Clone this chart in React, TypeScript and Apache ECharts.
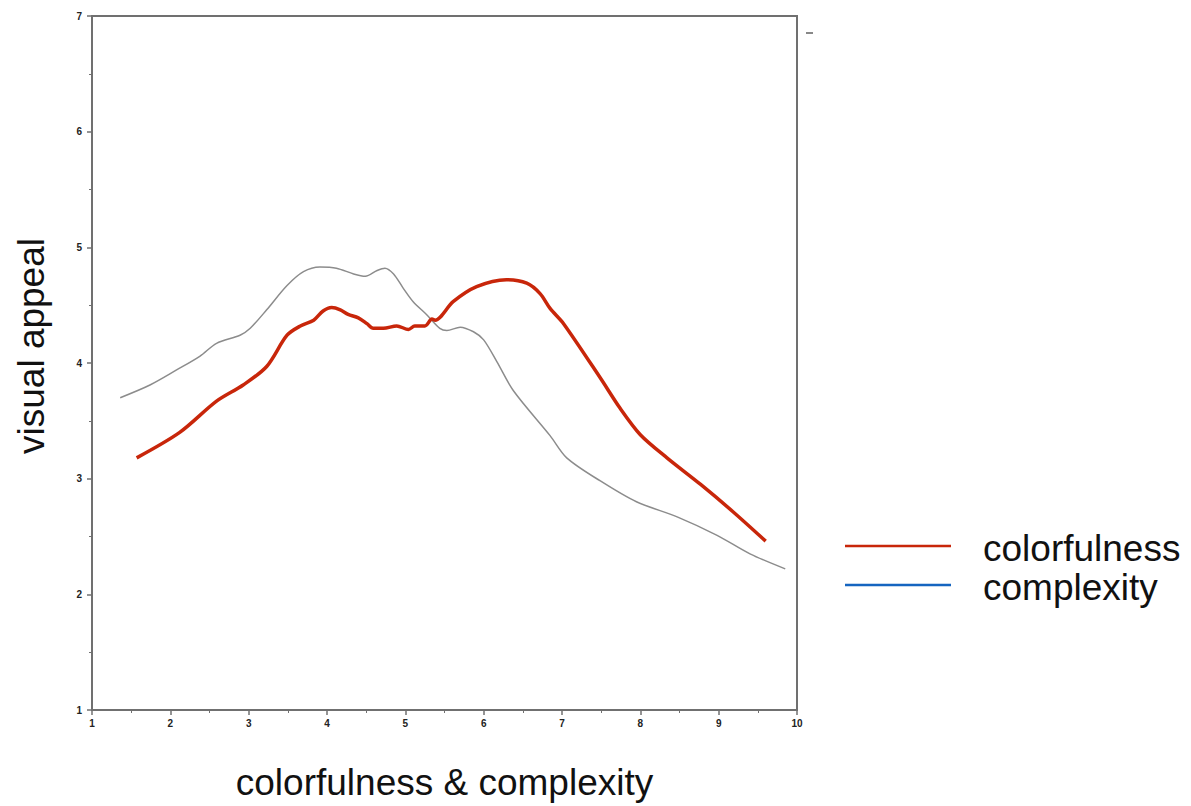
import React, { useEffect, useRef } from "react";
import * as echarts from "echarts";

const colorfulnessX = [1.57, 2.12, 2.59, 2.93, 3.23, 3.49, 3.66, 3.83, 3.95, 4.06, 4.17, 4.27, 4.4, 4.51, 4.59, 4.72, 4.89, 5.04, 5.12, 5.25, 5.34, 5.38, 5.61, 5.91, 6.29, 6.55, 6.72, 6.85, 7.02, 7.49, 7.74, 8.0, 8.34, 8.77, 9.19, 9.6];
const colorfulnessY = [3.18, 3.4, 3.67, 3.81, 3.97, 4.24, 4.32, 4.37, 4.45, 4.48, 4.46, 4.42, 4.39, 4.34, 4.3, 4.3, 4.32, 4.29, 4.32, 4.32, 4.38, 4.37, 4.53, 4.66, 4.72, 4.69, 4.6, 4.47, 4.34, 3.87, 3.61, 3.38, 3.18, 2.95, 2.71, 2.46];
const complexityX = [1.36, 1.74, 2.08, 2.38, 2.59, 2.89, 3.02, 3.23, 3.49, 3.7, 3.91, 4.12, 4.34, 4.49, 4.64, 4.74, 4.85, 4.97, 5.1, 5.27, 5.44, 5.53, 5.7, 5.87, 6.0, 6.17, 6.38, 6.85, 7.06, 7.49, 7.95, 8.47, 8.98, 9.4, 9.85];
const complexityY = [3.7, 3.81, 3.94, 4.06, 4.17, 4.24, 4.3, 4.46, 4.67, 4.79, 4.83, 4.82, 4.77, 4.75, 4.8, 4.82, 4.77, 4.65, 4.53, 4.42, 4.3, 4.28, 4.31, 4.27, 4.2, 4.01, 3.76, 3.37, 3.18, 2.98, 2.8, 2.67, 2.51, 2.35, 2.22];
const xTicks = [1, 2, 3, 4, 5, 6, 7, 8, 9, 10];
const yTicks = [1, 2, 3, 4, 5, 6, 7];
const seriesNames = ["colorfulness", "complexity"];
const legendColors = ["#c8260a", "#1565c0"];
const xTitle = "colorfulness & complexity";
const yTitle = "visual appeal";

export default function App() {
  const ref = useRef<HTMLDivElement>(null);
  useEffect(() => {
    if (!ref.current) return;
    const chart = echarts.init(ref.current, null, { renderer: "svg" });
    const font = "Liberation Sans, Arial, sans-serif";
    const axisCommon = {
      axisLine: { show: true, lineStyle: { color: "#707070", width: 2 } },
      axisTick: { show: true, inside: false, length: 5, lineStyle: { color: "#707070", width: 1.5 } },
      minorTick: { show: true, splitNumber: 2, length: 3, lineStyle: { color: "#707070", width: 1 } },
      splitLine: { show: false },
      axisLabel: { color: "#222", fontSize: 10, fontFamily: font, fontWeight: "bold" as const },
      nameTextStyle: { color: "#111", fontSize: 37, fontFamily: font },
    };
    chart.setOption({
      animation: false,
      backgroundColor: "#ffffff",
      grid: {
        left: 92,
        right: 394,
        top: 16,
        bottom: 92,
        show: true,
        borderColor: "#707070",
        borderWidth: 2,
        backgroundColor: "#ffffff",
      },
      xAxis: {
        type: "value",
        min: xTicks[0],
        max: xTicks[xTicks.length - 1],
        interval: 1,
        name: xTitle,
        nameLocation: "middle",
        nameGap: 54,
        ...axisCommon,
        axisLabel: { ...axisCommon.axisLabel, margin: 8 },
      },
      yAxis: {
        type: "value",
        min: yTicks[0],
        max: yTicks[yTicks.length - 1],
        interval: 1,
        ...axisCommon,
        axisLabel: { ...axisCommon.axisLabel, margin: 10 },
      },
      series: [
        {
          name: seriesNames[1],
          type: "line",
          smooth: 0.3,
          showSymbol: false,
          data: complexityX.map((x, i) => [x, complexityY[i]]),
          lineStyle: { color: "#8c8c8c", width: 1.5 },
        },
        {
          name: seriesNames[0],
          type: "line",
          smooth: 0.3,
          showSymbol: false,
          data: colorfulnessX.map((x, i) => [x, colorfulnessY[i]]),
          lineStyle: { color: legendColors[0], width: 3.5 },
        },
      ],
      graphic: [
        {
          type: "text",
          x: 31,
          y: 346,
          rotation: Math.PI / 2,
          style: { text: yTitle, font: `37px ${font}`, fill: "#111", align: "center", verticalAlign: "middle" },
        },
        { type: "line", shape: { x1: 845, y1: 546, x2: 951, y2: 546 }, style: { stroke: legendColors[0], lineWidth: 2.5 } },
        { type: "line", shape: { x1: 845, y1: 585, x2: 951, y2: 585 }, style: { stroke: legendColors[1], lineWidth: 2.5 } },
        { type: "text", x: 983, y: 548, style: { text: seriesNames[0], font: `37px ${font}`, fill: "#111", verticalAlign: "middle" } },
        { type: "text", x: 983, y: 587, style: { text: seriesNames[1], font: `37px ${font}`, fill: "#111", verticalAlign: "middle" } },
        { type: "line", shape: { x1: 806, y1: 33, x2: 813, y2: 33 }, style: { stroke: "#888", lineWidth: 2 } },
      ],
    });
    return () => chart.dispose();
  }, []);
  return <div ref={ref} style={{ position: "absolute", left: 0, top: 0, width: 1191, height: 806 }} />;
}
